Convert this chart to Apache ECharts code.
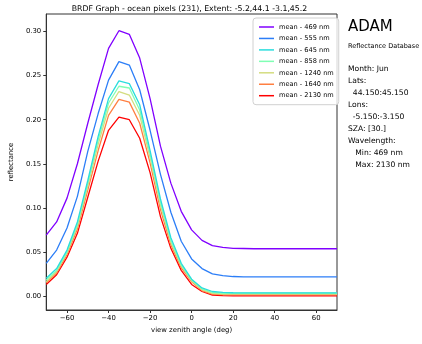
<!DOCTYPE html>
<html><head><meta charset="utf-8">
<script src="https://cdn.jsdelivr.net/npm/echarts@6/dist/echarts.min.js"></script>
<style>html,body{margin:0;padding:0;background:#fff}#c{width:422px;height:344px}</style>
</head><body><div id="c"></div>
<script>
const angles = [-70,-65,-60,-55,-50,-45,-40,-35,-30,-25,-20,-15,-10,-5,0,5,10,15,20,25,30,35,40,45,50,55,60,65,70];
const seriesNames = ['mean - 469 nm','mean - 555 nm','mean - 645 nm','mean - 858 nm','mean - 1240 nm','mean - 1640 nm','mean - 2130 nm'];
const mean469  = [0.069,0.084,0.111,0.150,0.196,0.240,0.281,0.301,0.297,0.270,0.224,0.170,0.128,0.096,0.075,0.063,0.057,0.055,0.054,0.0538,0.0535,0.0535,0.0535,0.0535,0.0535,0.0535,0.0535,0.0535,0.0535];
const mean555  = [0.037,0.052,0.077,0.113,0.164,0.207,0.245,0.266,0.262,0.234,0.188,0.138,0.095,0.062,0.042,0.031,0.025,0.023,0.022,0.0217,0.0215,0.0215,0.0215,0.0215,0.0215,0.0215,0.0215,0.0215,0.0215];
const mean645  = [0.020,0.031,0.052,0.084,0.131,0.181,0.224,0.244,0.241,0.217,0.165,0.110,0.066,0.037,0.019,0.009,0.005,0.004,0.0036,0.0035,0.0035,0.0035,0.0035,0.0035,0.0035,0.0035,0.0035,0.0035,0.0035];
const mean858  = [0.018,0.029,0.050,0.081,0.128,0.177,0.219,0.238,0.236,0.211,0.161,0.106,0.063,0.035,0.018,0.008,0.004,0.003,0.003,0.003,0.003,0.003,0.003,0.003,0.003,0.003,0.003,0.003,0.003];
const mean1240 = [0.016,0.028,0.049,0.079,0.125,0.172,0.213,0.232,0.228,0.205,0.157,0.103,0.061,0.034,0.017,0.007,0.003,0.002,0.002,0.002,0.002,0.002,0.002,0.002,0.002,0.002,0.002,0.002,0.002];
const mean1640 = [0.015,0.026,0.047,0.076,0.120,0.165,0.205,0.223,0.220,0.196,0.151,0.098,0.058,0.032,0.016,0.006,0.002,0.0015,0.0015,0.0015,0.0015,0.0015,0.0015,0.0015,0.0015,0.0015,0.0015,0.0015,0.0015];
const mean2130 = [0.013,0.024,0.044,0.071,0.112,0.153,0.188,0.203,0.200,0.179,0.140,0.090,0.054,0.029,0.013,0.005,0.001,0.0003,0,0,0,0,0,0,0,0,0,0,0];
const xTicks = [-60,-40,-20,0,20,40,60];
const yTicks = [0,0.05,0.10,0.15,0.20,0.25,0.30];
const titleText = 'BRDF Graph - ocean pixels (231), Extent: -5.2,44.1 -3.1,45.2';
const infoLines = ['Month: Jun','Lats:','  44.150:45.150','Lons:','  -5.150:-3.150','SZA: [30.]','Wavelength:','   Min: 469 nm','   Max: 2130 nm'];

const allValues = [mean469, mean555, mean645, mean858, mean1240, mean1640, mean2130];
const colors = ['#8000ff','#2c7ef7','#2adddd','#80ffb4','#d4dd80','#ff7f41','#ff0000'];
const FONT = 'DejaVu Sans';

const series = allValues.map((vals, i) => ({
  name: seriesNames[i], type: 'line', symbol: 'none', z: 10 - i,
  data: angles.map((a, j) => [a, vals[j]]),
  lineStyle: { width: 1.3, color: colors[i] }, itemStyle: { color: colors[i] },
  animation: false
}));

const graphics = [
  { type: 'text', x: 189.5, y: 9, style: { text: titleText, fontSize: 7.8, fontFamily: FONT, fill: '#000', align: 'center', verticalAlign: 'middle' } },
  { type: 'text', x: 348, y: 27, style: { text: 'ADAM', fontSize: 15, fontFamily: FONT, fill: '#000', align: 'left', verticalAlign: 'middle' } },
  { type: 'text', x: 348, y: 46, style: { text: 'Reflectance Database', fontSize: 6.5, fontFamily: FONT, fill: '#000', align: 'left', verticalAlign: 'middle' } }
];
infoLines.forEach((t, i) => {
  graphics.push({ type: 'text', x: 348, y: 69 + i * 12, style: { text: t, fontSize: 7.6, fontFamily: FONT, fill: '#000', align: 'left', verticalAlign: 'middle' } });
});

const chart = echarts.init(document.getElementById('c'), null, { renderer: 'canvas' });
chart.setOption({
  animation: false,
  color: colors,
  textStyle: { fontFamily: FONT },
  grid: { left: 42, top: 14, right: 85, bottom: 34, show: true, borderColor: '#333', borderWidth: 1, backgroundColor: 'transparent' },
  legend: {
    left: 253, top: 18, orient: 'vertical', icon: 'rect', itemWidth: 15, itemHeight: 1.5, itemGap: 3.45,
    padding: [5, 5, 5, 6], borderColor: '#d0d0d0', borderWidth: 1, borderRadius: 3, backgroundColor: 'rgba(255,255,255,0.8)',
    textStyle: { fontSize: 6.6, lineHeight: 8, fontFamily: FONT, color: '#000' },
    data: seriesNames
  },
  xAxis: {
    type: 'value', min: -70, max: 70,
    name: 'view zenith angle (deg)', nameLocation: 'middle', nameGap: 16,
    nameTextStyle: { fontSize: 6.9, fontFamily: FONT, color: '#000' },
    axisLine: { show: true, onZero: false, lineStyle: { color: '#333', width: 1 } },
    axisTick: { show: true, length: 3, lineStyle: { color: '#333' }, customValues: xTicks },
    axisLabel: { fontSize: 6.9, fontFamily: FONT, color: '#000', margin: 5, customValues: xTicks,
      formatter: v => String(v).replace('-', '\u2212') },
    splitLine: { show: false }
  },
  yAxis: {
    type: 'value', min: -0.016, max: 0.32,
    name: 'reflectance', nameLocation: 'middle', nameGap: 22,
    nameTextStyle: { fontSize: 6.9, fontFamily: FONT, color: '#000' },
    axisLine: { show: true, onZero: false, lineStyle: { color: '#333', width: 1 } },
    axisTick: { show: true, length: 3, lineStyle: { color: '#333' }, customValues: yTicks },
    axisLabel: { fontSize: 6.9, fontFamily: FONT, color: '#000', margin: 5, customValues: yTicks,
      formatter: v => v.toFixed(2) },
    splitLine: { show: false }
  },
  graphic: graphics,
  series: series
});
</script></body></html>
